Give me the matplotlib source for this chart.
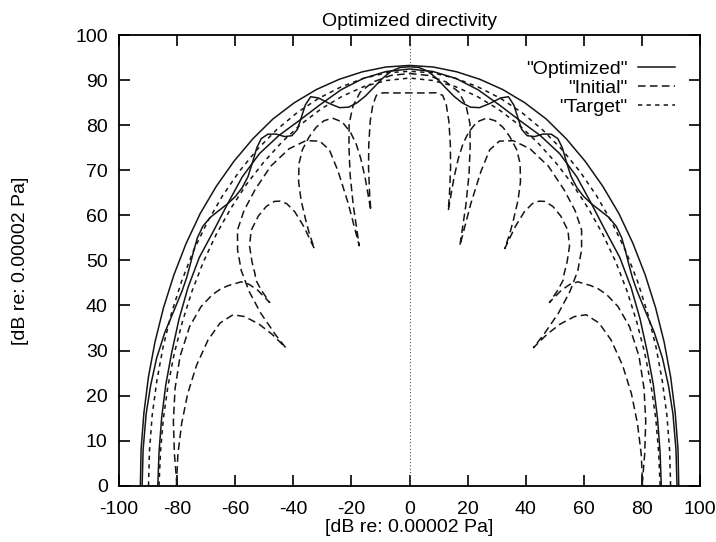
import numpy as np
import matplotlib
matplotlib.use("Agg")
import matplotlib.pyplot as plt

plt.rcParams['font.family'] = ['Liberation Sans', 'DejaVu Sans']
plt.rcParams['axes.unicode_minus'] = False

# directivity data, left half only (mirrored): angle from the vertical [deg], level [dB]
# "Optimized"
opt1_phi = [0, 5, 10, 15, 20, 25, 30, 35, 40, 45, 50, 55, 60, 65, 70, 75, 80, 85, 90]
opt1_lev = [93.3, 93.3, 93.3, 93.4, 93.6, 93.8, 94, 94, 94, 94, 94, 93.8, 93.6, 93.4, 93.2, 93, 92.8, 92.7, 92.6]

opt2_phi = [0, 2, 4, 6, 8, 10, 12, 14, 16, 18, 20, 21.5, 23, 24.5, 26, 27.5, 29, 30.5, 32, 33.5, 35, 37,
            39, 41, 43, 45, 47, 49, 51, 53, 55, 57, 59, 61, 64, 68, 72, 76, 80, 85, 90]
opt2_lev = [93, 92.9, 92.2, 90.8, 89.2, 87.8, 86.9, 86.6, 87.3, 89.2, 91.6, 92.8, 91.8, 89.8, 88, 87.6,
            88.6, 90.6, 92, 92.4, 91.6, 89.8, 88.3, 87.7, 87.8, 88.5, 89.6, 90.8, 91.5, 91.4, 90.7, 90,
            89.5, 89.4, 89.8, 90.8, 91.5, 91.8, 92, 92, 92]

opt3_phi = [0, 5, 10, 15, 20, 25, 30, 35, 40, 45, 50, 55, 60, 65, 70, 75, 80, 85, 90]
opt3_lev = [92.5, 92.3, 91.8, 91, 90, 89.5, 89.8, 90, 89.5, 88.5, 88, 88.3, 88, 87.5, 87, 86.8, 86.6, 86.5, 86.6]

# "Initial"
ini1_phi = [0, 3, 6, 7.5, 8.5, 9.5, 10.5, 11.3, 12.0, 12.3,
            12.6, 13, 13.6, 14.5, 16, 18, 20, 22, 24, 26.3, 28, 29.5, 30.5, 31.2, 31.6, 31.9,
            32.3, 33, 34, 35.2, 36.4, 38.5, 41, 43.9, 46, 47.5, 48.5, 49.2, 49.6, 49.8,
            50.3, 51, 52, 53.3, 54.5, 56, 58, 61, 65, 70, 75, 80, 85, 90]
ini1_lev = [87.2, 87.3, 87.7, 87.4, 85.5, 82, 77, 72, 66, 62.5,
            70, 74.5, 78, 81, 84, 85.8, 86.2, 85.8, 84.8, 83.2, 81, 77.5, 73.5, 69, 66, 62,
            68, 72.5, 75.5, 77.3, 78.4, 79.2, 79.3, 78.6, 76.5, 73.5, 71, 69.8, 67, 63,
            68, 71, 73.5, 75, 76.5, 78.2, 80, 82, 83.5, 84, 83.5, 82.5, 81.2, 80]

ini2_phi = [0, 4, 8, 11, 13, 14.5, 15.5, 16.5, 17.3, 18,
            18.6, 19.4, 20.3, 22, 25, 29, 34, 39, 43, 46.2, 48.5, 50.5, 52, 53.2, 54, 54.3,
            54.6, 55.3, 56.5, 58, 61, 65, 70, 75, 80, 85, 90]
ini2_lev = [91.5, 91.3, 90.5, 89, 86.5, 83, 78, 72, 65, 56,
            66, 74, 79.5, 82.5, 84.5, 85.5, 85.5, 84.5, 83.5, 82, 79, 75, 70, 64, 57, 52.5,
            58, 63, 68, 71.6, 74.5, 76.5, 78, 79, 79.6, 80, 80.2]

# "Target"
tgt1_phi = [0, 5, 10, 15, 20, 25, 30, 35, 40, 45, 50, 55, 60, 65, 70, 75, 80, 85, 90]
tgt1_lev = [92, 92, 91.8, 91.6, 91.5, 91.4, 91.3, 91.2, 91.1, 91, 90.9, 90.8, 90.6, 90.4, 90.2, 90, 89.9, 89.8, 89.8]
tgt2_phi = [0, 5, 10, 15, 20, 25, 30, 35, 40, 45, 50, 55, 60, 65, 70, 75, 80, 85, 90]
tgt2_lev = [90.5, 90.3, 90, 89.5, 89, 88.5, 88, 87.6, 87.3, 87, 86.8, 86.6, 86.4, 86.2, 86.1, 86, 86, 86, 86.2]

curves = [
    (opt1_phi, opt1_lev, '-', '"Optimized"'),
    (opt2_phi, opt2_lev, '-', None),
    (opt3_phi, opt3_lev, '-', None),
    (ini1_phi, ini1_lev, (0, (5, 2.8)), '"Initial"'),
    (ini2_phi, ini2_lev, (0, (5, 2.8)), None),
    (tgt1_phi, tgt1_lev, (0, (2.8, 2.8)), '"Target"'),
    (tgt2_phi, tgt2_lev, (0, (2.8, 2.8)), None),
]


def polar_xy(phi, lev):
    phi = np.asarray(phi, float)
    lev = np.asarray(lev, float)
    ph = np.concatenate([-phi[::-1], phi[1:]])
    rr = np.concatenate([lev[::-1], lev[1:]])
    th = np.radians(ph)
    return rr * np.sin(th), rr * np.cos(th)


fig = plt.figure(figsize=(7.16, 5.42), dpi=100)
ax = fig.add_axes([0.166, 0.104, 0.812, 0.831])

for phi, lev, ls, lab in curves:
    x, y = polar_xy(phi, lev)
    ax.plot(x, y, color='#151515', lw=1.1, ls=ls, label=lab)

ax.axvline(0, color='#555555', lw=0.8, ls=(0, (1, 2)))

ax.set_xlim(-100, 100)
ax.set_ylim(0, 100)
ax.set_xticks(np.arange(-100, 101, 20))
ax.set_yticks(np.arange(0, 101, 10))
ax.tick_params(direction='in', length=8, width=1.2, top=True, right=True, labelsize=14)
ax.tick_params(axis='x', pad=11)
ax.tick_params(axis='y', pad=8)
for s in ax.spines.values():
    s.set_linewidth(1.3)

ax.set_title('Optimized directivity', fontsize=14, pad=7)
ax.set_xlabel('[dB re: 0.00002 Pa]', fontsize=14, labelpad=1)
ax.set_ylabel('[dB re: 0.00002 Pa]', fontsize=14, labelpad=33)

ax.legend(loc='upper right', bbox_to_anchor=(0.957, 0.945), frameon=False, markerfirst=False,
          fontsize=14, handlelength=1.9, handletextpad=0.55, labelspacing=0.08,
          borderaxespad=0, borderpad=0)

fig.savefig('out.png', dpi=100)
